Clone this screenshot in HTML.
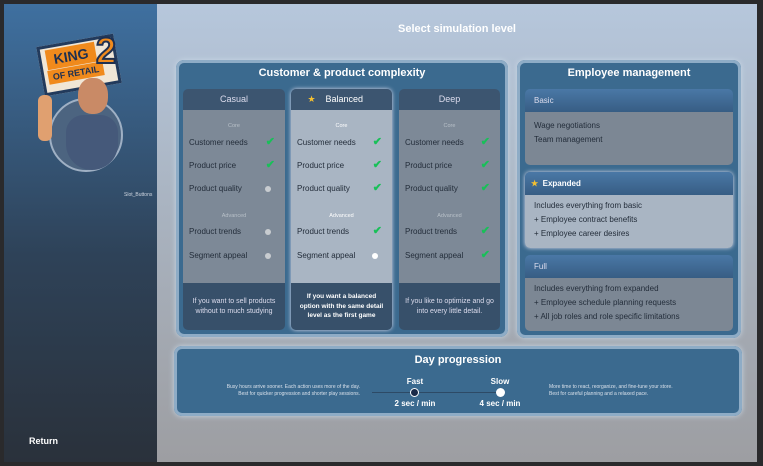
<!DOCTYPE html>
<html><head><meta charset="utf-8"><style>
*{margin:0;padding:0;box-sizing:border-box}
body{width:763px;height:466px;background:#2a2a2c;position:relative;overflow:hidden;font-family:"Liberation Sans",sans-serif;color:#fff}
.a{position:absolute}
#left{left:4px;top:4px;width:153px;height:458px;background:linear-gradient(#3f70a0,#2e4258 55%,#2a313b)}
#main{left:157px;top:4px;width:600px;height:458px;background:linear-gradient(#b6c7dc,#a9b3c0 45%,#9d9ea2)}
.panel{background:#3b6a8f;border-radius:8px;box-shadow:0 0 0 3px #8eacc6 inset,0 0 6px #c9d8e6}
.ttl{font-weight:bold;font-size:11px;text-align:center}
.col{border-radius:5px;overflow:hidden}
.hd{height:21px;background:#3c5570;font-size:9px;text-align:center;line-height:21px;color:#dde}
.bd{background:#7d8997;height:173px;position:relative;color:#232d3a;font-size:8px}
.ft{height:47px;background:#37506a;font-size:7px;text-align:center;color:#dde;display:flex;align-items:center;justify-content:center;padding:0 6px;line-height:10px}
.sec{position:absolute;width:100%;text-align:center;font-size:5.5px;color:#b8c0c8}
.row{position:absolute;left:6px}
.ck{position:absolute;right:10px;color:#18c058;font-size:11px;font-weight:bold}
.dt{position:absolute;right:14px;width:6px;height:6px;border-radius:50%;background:#c8ccd0}
.eh{height:23px;background:linear-gradient(#4a78a6,#375d84);font-size:8px;line-height:23px;padding-left:9px;color:#dde}
.eb{background:#7c8794;color:#232d3a;font-size:8px;padding:7px 9px;line-height:14px}
</style></head><body>
<div id="left" class="a"></div>
<div id="main" class="a"></div>
<!-- logo -->
<div class="a" style="left:49px;top:98px;width:74px;height:74px;border-radius:50%;background:#4c6480;border:2px solid #9fb0c4"></div>
<div class="a" style="left:40px;top:40px;width:78px;height:50px;background:#f0e6d6;transform:rotate(-10deg);border:3px solid #223a5c"></div>
<div class="a" style="left:46px;top:46px;width:50px;height:20px;background:#f08a1c;transform:rotate(-10deg);color:#1f3050;font-weight:bold;font-size:14px;line-height:20px;text-align:center">KING</div>
<div class="a" style="left:48px;top:66px;width:56px;height:14px;background:#f08a1c;transform:rotate(-10deg);color:#1f3050;font-weight:bold;font-size:9px;line-height:14px;text-align:center">OF RETAIL</div>
<div class="a" style="left:96px;top:30px;color:#f08a1c;font-weight:bold;font-size:36px;-webkit-text-stroke:2px #1f3050">2</div>
<div class="a" style="left:78px;top:78px;width:30px;height:36px;border-radius:45%;background:#c98a66"></div>
<div class="a" style="left:66px;top:115px;width:52px;height:55px;border-radius:20px 20px 30px 30px;background:#45597a"></div>
<div class="a" style="left:38px;top:95px;width:14px;height:46px;border-radius:6px;background:#e0a070"></div>
<div class="a" style="left:124px;top:192px;font-size:5px;color:#cfd6e0">Slot_Buttons</div>
<div class="a" style="left:29px;top:436px;font-size:9px;font-weight:bold">Return</div>

<div class="a ttl" style="left:157px;top:23px;width:600px;font-size:11px">Select simulation level</div>

<div class="a panel" style="left:176px;top:60px;width:332px;height:277px"></div>
<div class="a ttl" style="left:176px;top:67px;width:332px">Customer &amp; product complexity</div>

<!-- columns -->
<div class="a col" style="left:183px;top:89px;width:102px">
<div class="hd">Casual</div>
<div class="bd"><div class="sec" style="top:13px">Core</div>
<div class="row" style="top:28px">Customer needs</div><div class="ck" style="top:25px">✔</div>
<div class="row" style="top:51px">Product price</div><div class="ck" style="top:48px">✔</div>
<div class="row" style="top:74px">Product quality</div><div class="dt" style="top:76px"></div>
<div class="sec" style="top:103px">Advanced</div>
<div class="row" style="top:117px">Product trends</div><div class="dt" style="top:119px"></div>
<div class="row" style="top:141px">Segment appeal</div><div class="dt" style="top:143px"></div></div>
<div class="ft">If you want to sell products without to much studying</div></div>

<div class="a col" style="left:291px;top:89px;width:101px;box-shadow:0 0 4px #dde">
<div class="hd" style="color:#fff"><span style="color:#f5c030">★</span>&nbsp;&nbsp;&nbsp;&nbsp;Balanced&nbsp;&nbsp;&nbsp;&nbsp;&nbsp;</div>
<div class="bd" style="background:#a9b5c3"><div class="sec" style="top:13px;color:#fff">Core</div>
<div class="row" style="top:28px">Customer needs</div><div class="ck" style="top:25px">✔</div>
<div class="row" style="top:51px">Product price</div><div class="ck" style="top:48px">✔</div>
<div class="row" style="top:74px">Product quality</div><div class="ck" style="top:71px">✔</div>
<div class="sec" style="top:103px;color:#fff">Advanced</div>
<div class="row" style="top:117px">Product trends</div><div class="ck" style="top:114px">✔</div>
<div class="row" style="top:141px">Segment appeal</div><div class="dt" style="top:143px;background:#fff"></div></div>
<div class="ft" style="font-weight:bold;color:#fff;font-size:6.5px;line-height:9.5px">If you want a balanced option with the same detail level as the first game</div></div>

<div class="a col" style="left:399px;top:89px;width:101px">
<div class="hd">Deep</div>
<div class="bd"><div class="sec" style="top:13px">Core</div>
<div class="row" style="top:28px">Customer needs</div><div class="ck" style="top:25px">✔</div>
<div class="row" style="top:51px">Product price</div><div class="ck" style="top:48px">✔</div>
<div class="row" style="top:74px">Product quality</div><div class="ck" style="top:71px">✔</div>
<div class="sec" style="top:103px">Advanced</div>
<div class="row" style="top:117px">Product trends</div><div class="ck" style="top:114px">✔</div>
<div class="row" style="top:141px">Segment appeal</div><div class="ck" style="top:138px">✔</div></div>
<div class="ft">If you like to optimize and go into every little detail.</div></div>

<!-- employee -->
<div class="a panel" style="left:517px;top:60px;width:224px;height:278px"></div>
<div class="a ttl" style="left:517px;top:67px;width:224px">Employee management</div>
<div class="a col" style="left:525px;top:89px;width:208px">
<div class="eh">Basic</div><div class="eb" style="height:53px">Wage negotiations<br>Team management</div></div>
<div class="a col" style="left:525px;top:172px;width:208px;box-shadow:0 0 4px #dde">
<div class="eh" style="font-weight:bold;color:#fff;padding-left:6px"><span style="color:#f5c030">★</span>&nbsp; Expanded</div><div class="eb" style="background:#a9b5c3;height:53px;padding-top:4px">Includes everything from basic<br>+ Employee contract benefits<br>+ Employee career desires</div></div>
<div class="a col" style="left:525px;top:255px;width:208px">
<div class="eh">Full</div><div class="eb" style="height:53px;padding-top:4px">Includes everything from expanded<br>+ Employee schedule planning requests<br>+ All job roles and role specific limitations</div></div>

<!-- day progression -->
<div class="a panel" style="left:174px;top:346px;width:568px;height:70px"></div>
<div class="a ttl" style="left:174px;top:354px;width:568px;font-size:11px">Day progression</div>
<div class="a" style="left:190px;top:384px;width:170px;font-size:5px;text-align:right;color:#d8e0ea;line-height:7px">Busy hours arrive sooner. Each action uses more of the day.<br>Best for quicker progression and shorter play sessions.</div>
<div class="a" style="left:549px;top:384px;width:180px;font-size:5px;color:#d8e0ea;line-height:7px">More time to react, reorganize, and fine-tune your store.<br>Best for careful planning and a relaxed pace.</div>
<div class="a" style="left:372px;top:392px;width:130px;height:1px;background:#2d4a66"></div>
<div class="a" style="left:410px;top:388px;width:9px;height:9px;border-radius:50%;background:#1a2a48;border:1.5px solid #fff"></div>
<div class="a" style="left:496px;top:388px;width:9px;height:9px;border-radius:50%;background:#fff"></div>
<div class="a" style="left:395px;top:377px;width:40px;text-align:center;font-size:8px;font-weight:bold">Fast</div>
<div class="a" style="left:480px;top:377px;width:40px;text-align:center;font-size:8px;font-weight:bold">Slow</div>
<div class="a" style="left:385px;top:399px;width:60px;text-align:center;font-size:8px;font-weight:bold">2 sec / min</div>
<div class="a" style="left:470px;top:399px;width:60px;text-align:center;font-size:8px;font-weight:bold">4 sec / min</div>
</body></html>
